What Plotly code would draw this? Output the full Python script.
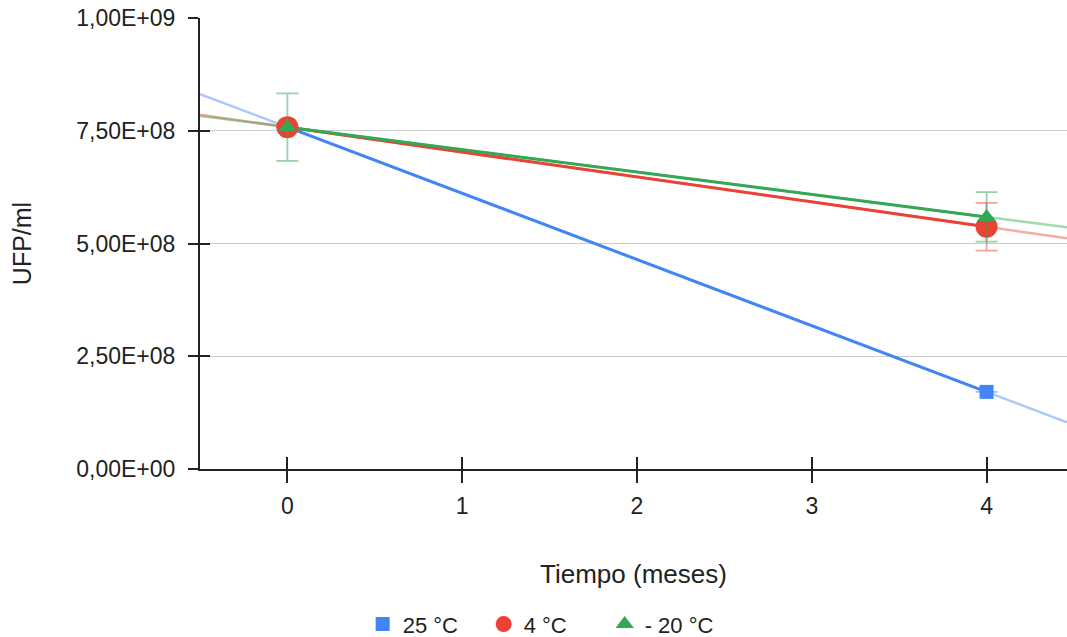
import numpy as np
import plotly.graph_objects as go

# ---- data ----
months = [0, 4]
series_names = ["25 °C", "4 °C", "- 20 °C"]
ufp_25 = [7.58e8, 1.71e8]
ufp_4 = [7.58e8, 5.37e8]
ufp_m20 = [7.58e8, 5.59e8]
err_25 = [0, 0]
err_4 = [0, 5.3e7]
err_m20 = [7.5e7, 5.5e7]

y_tickvals = [0, 2.5e8, 5e8, 7.5e8, 1e9]
y_ticktext = ["0,00E+00", "2,50E+08", "5,00E+08", "7,50E+08", "1,00E+09"]
x_tickvals = [0, 1, 2, 3, 4]

# ---- style ----
colors = ["#4285F4", "#EA4335", "#34A853"]
light = ["rgba(66,133,244,0.45)", "rgba(234,67,53,0.45)", "rgba(52,168,83,0.45)"]
err_colors = ["rgba(66,133,244,0.5)", "rgba(234,67,53,0.5)", "rgba(52,168,83,0.5)"]
symbols = ["square", "circle", "triangle-up"]
sizes = [14, 22, 16]
x_range = [-0.5, 4.46]
FONT = "Liberation Sans, Arial, sans-serif"

fig = go.Figure()

all_y = [ufp_25, ufp_4, ufp_m20]
all_e = [err_25, err_4, err_m20]

# trendlines (linear fit of each series), extended to the axis range
for i, ys in enumerate(all_y):
    slope, intercept = np.polyfit(months, ys, 1)
    tx = np.array(x_range)
    fig.add_trace(go.Scatter(
        x=tx, y=slope * tx + intercept, mode="lines",
        line=dict(color=light[i], width=2.5),
        showlegend=False, hoverinfo="skip"))

# data lines
for i, ys in enumerate(all_y):
    fig.add_trace(go.Scatter(
        x=months, y=ys, mode="lines", line=dict(color=colors[i], width=3),
        showlegend=False, hoverinfo="skip"))

# markers with error bars (legend entries)
for i, ys in enumerate(all_y):
    fig.add_trace(go.Scatter(
        x=months, y=ys, mode="markers", name=series_names[i],
        marker=dict(symbol=symbols[i], size=sizes[i], color=colors[i], line=dict(width=0)),
        error_y=dict(type="data", array=all_e[i], visible=True,
                     color=err_colors[i], thickness=1.8, width=11)))

# invisible trace to activate overlay axes (crossing ticks)
fig.add_trace(go.Scatter(x=[None], y=[None], xaxis="x2", yaxis="y2",
                         showlegend=False, hoverinfo="skip"))

fig.update_layout(
    width=1067, height=637,
    margin=dict(l=200, r=0, t=18, b=168),
    paper_bgcolor="white", plot_bgcolor="white",
    font=dict(family=FONT, size=22, color="#222222"),
    xaxis=dict(range=x_range, tickvals=x_tickvals, ticks="outside", ticklen=12,
               tickwidth=1.5, tickcolor="#222222", showgrid=False,
               showline=True, linecolor="#222222", linewidth=2, zeroline=False,
               title=dict(text="Tiempo (meses)", font=dict(size=26), standoff=47),
               tickfont=dict(size=23), ticklabelstandoff=3),
    yaxis=dict(range=[0, 1e9], tickvals=y_tickvals, ticktext=y_ticktext,
               ticks="outside", ticklen=10, tickwidth=1.5, tickcolor="#222222",
               showgrid=True, gridcolor="#cccccc", gridwidth=1,
               showline=True, linecolor="#222222", linewidth=2, zeroline=False,
               title=dict(text="UFP/ml", font=dict(size=25), standoff=38),
               tickfont=dict(size=23), ticklabelstandoff=8),
    xaxis2=dict(range=x_range, tickvals=x_tickvals, ticks="inside", ticklen=12,
                tickwidth=1.5, tickcolor="#222222", overlaying="x", anchor="y",
                showticklabels=False, showgrid=False, showline=False, zeroline=False),
    yaxis2=dict(range=[0, 1e9], tickvals=y_tickvals, ticks="inside", ticklen=10,
                tickwidth=1.5, tickcolor="#222222", overlaying="y", anchor="x",
                side="left", showticklabels=False, showgrid=False, showline=False,
                zeroline=False),
    legend=dict(orientation="h", xref="container", yref="container",
                x=0.51, xanchor="center", y=0.02, yanchor="middle",
                font=dict(size=22), itemsizing="trace",
                entrywidthmode="pixels", entrywidth=76),
)

fig.write_html("out.html")
